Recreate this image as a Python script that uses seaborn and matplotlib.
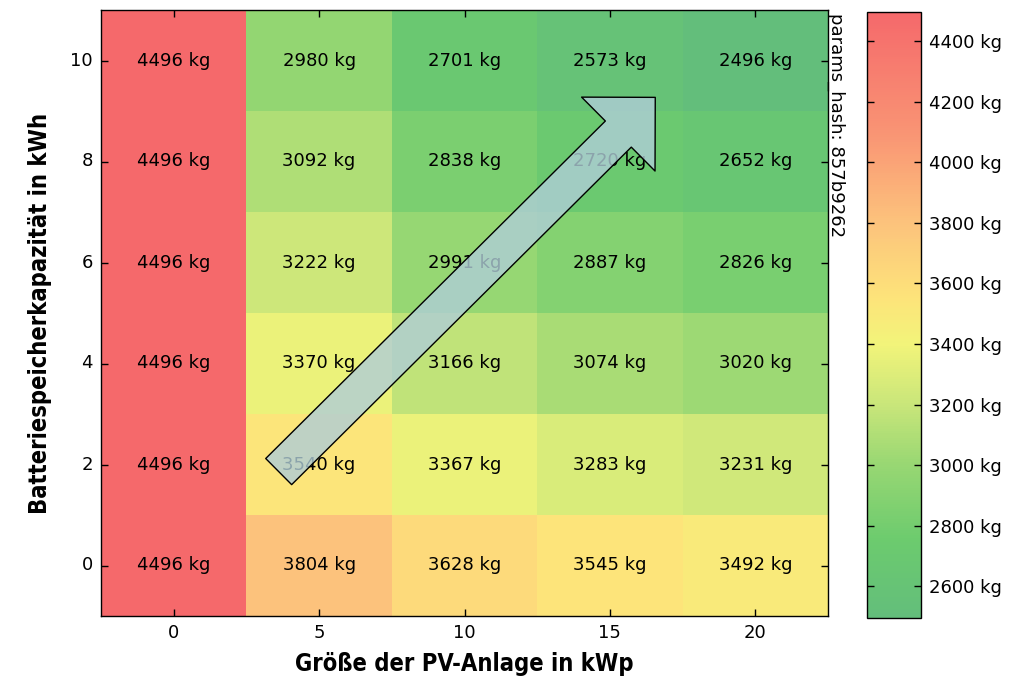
import numpy as np
import pandas as pd
import matplotlib
matplotlib.use("Agg")
import matplotlib.pyplot as plt
from matplotlib import font_manager
import seaborn as sns
from matplotlib.colors import LinearSegmentedColormap
from matplotlib.patches import FancyArrowPatch
from matplotlib.ticker import FuncFormatter

# ---- data ----
pv_sizes = [0, 5, 10, 15, 20]                 # kWp (columns)
battery_caps = [10, 8, 6, 4, 2, 0]            # kWh (rows, top -> bottom)
row_10 = [4496, 2980, 2701, 2573, 2496]
row_8 = [4496, 3092, 2838, 2720, 2652]
row_6 = [4496, 3222, 2991, 2887, 2826]
row_4 = [4496, 3370, 3166, 3074, 3020]
row_2 = [4496, 3540, 3367, 3283, 3231]
row_0 = [4496, 3804, 3628, 3545, 3492]
cbar_ticks = [2600, 2800, 3000, 3200, 3400, 3600, 3800, 4000, 4200, 4400]
x_label = "Größe der PV-Anlage in kWp"
y_label = "Batteriespeicherkapazität in kWh"
hash_text = "params_hash: 857b9262"

# colour scale stops (value, colour)
cmap_values = [2496, 2750, 3000, 3200, 3400, 3550, 3800, 4100, 4496]
cmap_colors = ["#63BE7B", "#6CCB6E", "#98D773", "#C9E67A", "#F2F47A",
               "#FDE47A", "#FCC37C", "#F99474", "#F5696B"]

values = np.array([row_10, row_8, row_6, row_4, row_2, row_0], dtype=float)
df = pd.DataFrame(values, index=battery_caps, columns=pv_sizes)
annot = np.array([[f"{int(v)} kg" for v in r] for r in values])

vmin, vmax = values.min(), values.max()
pos = [(v - vmin) / (vmax - vmin) for v in cmap_values]
pos[0], pos[-1] = 0.0, 1.0
cmap = LinearSegmentedColormap.from_list("excel_like", list(zip(pos, cmap_colors)))

plt.rcParams['font.family'] = ['DejaVu Sans']


def pick_font(names):
    for n in names:
        try:
            font_manager.findfont(font_manager.FontProperties(family=n),
                                  fallback_to_default=False)
            return n
        except Exception:
            pass
    return 'DejaVu Sans'


narrow = pick_font(['Liberation Sans Narrow', 'DejaVu Sans Condensed'])

fig = plt.figure(figsize=(10.31, 6.83), dpi=100)
ax = fig.add_axes([101/1031, 1-616/683, (828-101)/1031, (616-10)/683])
cax = fig.add_axes([867/1031, 1-618/683, 54/1031, (618-12)/683])

sns.heatmap(df, ax=ax, cbar_ax=cax, cmap=cmap, vmin=vmin, vmax=vmax,
            annot=annot, fmt="", annot_kws={"color": "black", "fontsize": 13},
            linewidths=0)

ax.set_xticklabels([str(v) for v in pv_sizes], rotation=0)
ax.set_yticklabels([str(v) for v in battery_caps], rotation=0)
ax.tick_params(direction='in', length=5, width=1, top=True, right=True,
               labelsize=13, colors='black', pad=6)
for s in ax.spines.values():
    s.set_visible(True)
    s.set_color('black')
    s.set_linewidth(1)

if narrow == 'DejaVu Sans':
    lab_kw = dict(family='DejaVu Sans', fontsize=17, fontstretch='condensed')
else:
    lab_kw = dict(family=narrow, fontsize=22.5)
ax.set_xlabel(x_label, fontweight='bold', labelpad=7, **lab_kw)
ax.set_ylabel(y_label, fontweight='bold', labelpad=13, **lab_kw)

# colorbar
cb = ax.collections[0].colorbar
cb.set_ticks(cbar_ticks)
cb.ax.yaxis.set_major_formatter(FuncFormatter(lambda v, p: f"{int(v)} kg"))
cb.ax.tick_params(direction='in', length=5, width=1, left=True, right=True,
                  labelsize=13, pad=6)
cb.outline.set_linewidth(1)
cb.outline.set_edgecolor('black')

# rotated hash text
ax.text(0.999, 0.995, hash_text, transform=ax.transAxes, rotation=-90,
        ha='left', va='top', fontsize=13, color='black')

# trend arrow (annotation)
arrow = FancyArrowPatch(
    (1.222, 4.57), (3.812, 0.865),
    arrowstyle="simple,head_length=37.5,head_width=75,tail_width=26.5",
    mutation_scale=1, shrinkA=0, shrinkB=0,
    facecolor=(175/255, 205/255, 215/255, 0.8), edgecolor='black', linewidth=1,
    zorder=5)
ax.add_patch(arrow)

fig.savefig("out.png", dpi=100)
